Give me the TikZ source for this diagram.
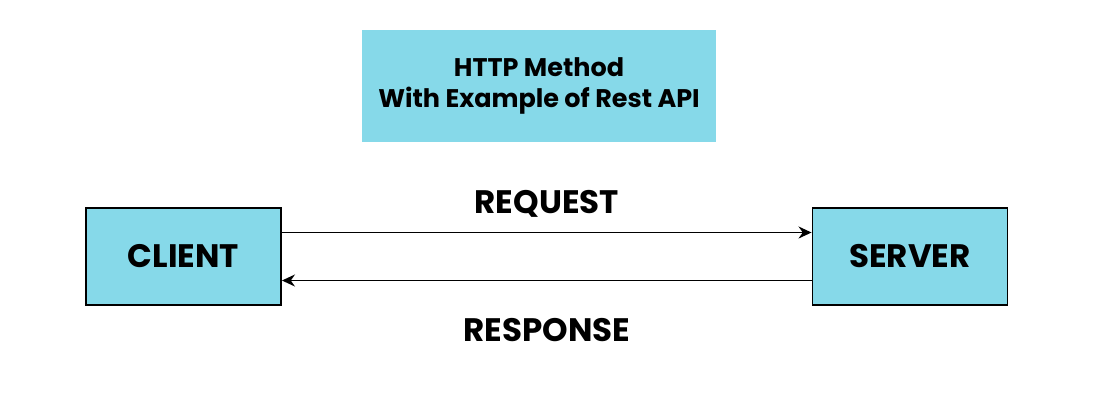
\documentclass[tikz,border=0pt]{standalone}
\usepackage{fontspec}
\setmainfont{Poppins}
\usepackage{tikz}
\usetikzlibrary{shapes,arrows.meta}
\definecolor{boxcyan}{RGB}{134,217,233}
\tikzstyle{blockCY} = [rectangle, draw, line width=1.1pt, fill=boxcyan, text centered, minimum width=3.9cm, minimum height=1.94cm, font=\fontsize{18.5}{22}\selectfont\bfseries]
\tikzstyle{titleCY} = [rectangle, fill=boxcyan, align=center, minimum width=7.08cm, minimum height=2.24cm, font=\fontsize{14.5}{17.5}\selectfont\bfseries]
\tikzstyle{label} = [font=\fontsize{18.5}{22}\selectfont\bfseries]
\tikzstyle{line} = [draw, line width=0.9pt, -{Stealth[length=2.6mm,width=2.4mm]}]

\begin{document}
\begin{tikzpicture}[node distance = 2cm, auto]
  \useasboundingbox (0,0) rectangle (22,-8.1);
    % nodes
    \node [titleCY] (title) at (10.78,-1.72) {HTTP Method\\With Example of Rest API};
    \node [blockCY] (client) at (3.67,-5.13) {CLIENT};
    \node [blockCY, right of = client, node distance = 14.53cm] (server) {SERVER};

    % edges
    \path [line] ([yshift=0.48cm]client.east) -- node[midway,above=0.17cm,label] (req) {REQUEST} ([yshift=0.48cm]server.west);
    \path [line] ([yshift=-0.48cm]server.west) -- node[midway,below=0.62cm,label] (resp) {RESPONSE} ([yshift=-0.48cm]client.east);
  \end{tikzpicture}
\end{document}
